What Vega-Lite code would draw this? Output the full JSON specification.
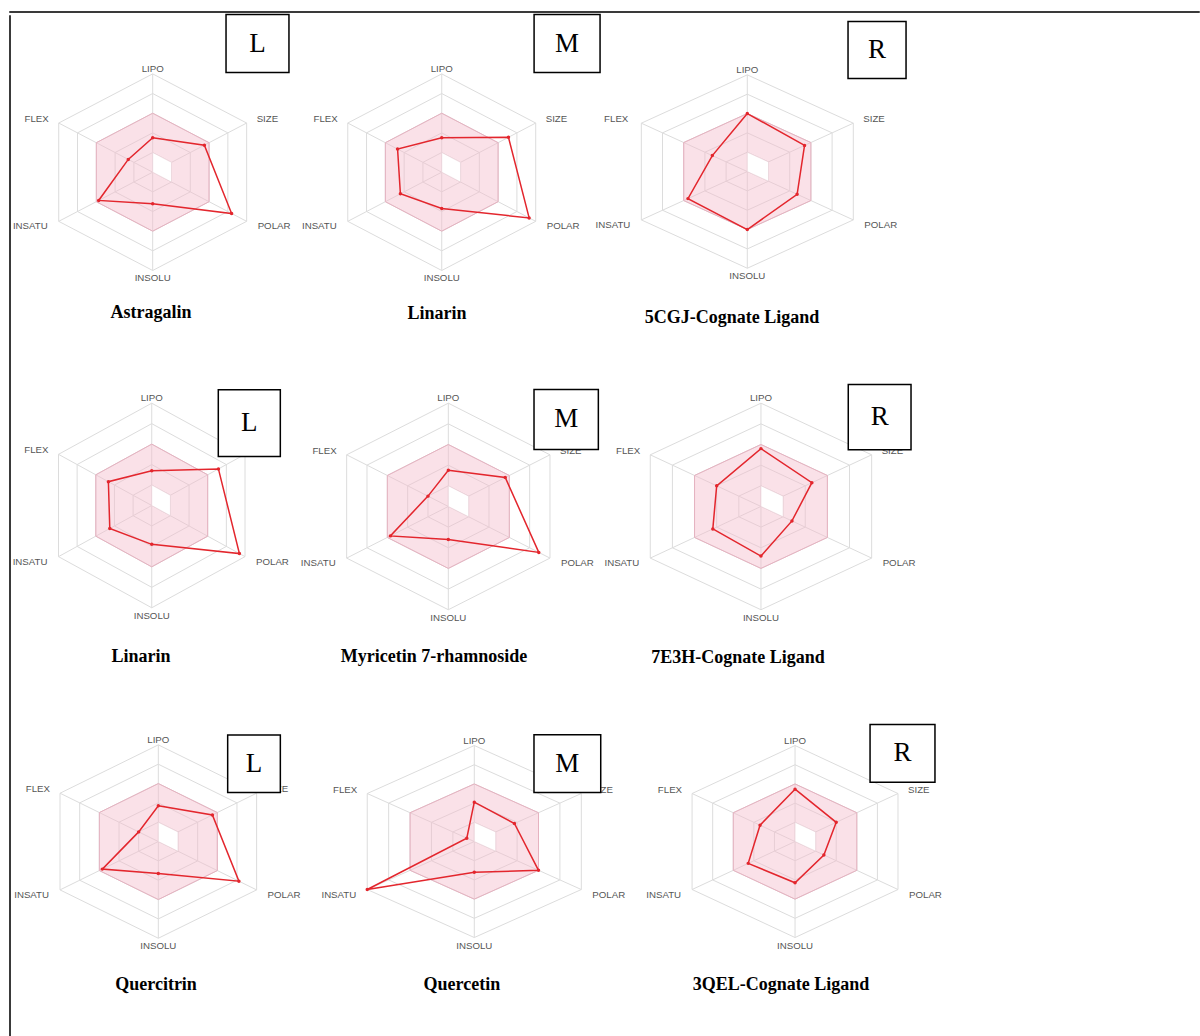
{
"$schema": "https://vega.github.io/schema/vega-lite/v6.json",
"background": "white",
"padding": {"left": 8, "top": 10, "right": 0, "bottom": 0},
"config": {"view": {"stroke": null}, "axis": {"disable": true}, "text": {"font": "Liberation Sans", "fontSize": 9.7, "color": "#555555", "baseline": "middle"}},
"datasets": {"d": [
{"kind":"g","axis":"LIPO","r":0.2},{"kind":"g","axis":"LIPO","r":0.4},{"kind":"g","axis":"LIPO","r":0.6},{"kind":"g","axis":"LIPO","r":0.8},{"kind":"g","axis":"LIPO","r":1},
{"kind":"g","axis":"SIZE","r":0.2},{"kind":"g","axis":"SIZE","r":0.4},{"kind":"g","axis":"SIZE","r":0.6},{"kind":"g","axis":"SIZE","r":0.8},{"kind":"g","axis":"SIZE","r":1},
{"kind":"g","axis":"POLAR","r":0.2},{"kind":"g","axis":"POLAR","r":0.4},{"kind":"g","axis":"POLAR","r":0.6},{"kind":"g","axis":"POLAR","r":0.8},{"kind":"g","axis":"POLAR","r":1},
{"kind":"g","axis":"INSOLU","r":0.2},{"kind":"g","axis":"INSOLU","r":0.4},{"kind":"g","axis":"INSOLU","r":0.6},{"kind":"g","axis":"INSOLU","r":0.8},{"kind":"g","axis":"INSOLU","r":1},
{"kind":"g","axis":"INSATU","r":0.2},{"kind":"g","axis":"INSATU","r":0.4},{"kind":"g","axis":"INSATU","r":0.6},{"kind":"g","axis":"INSATU","r":0.8},{"kind":"g","axis":"INSATU","r":1},
{"kind":"g","axis":"FLEX","r":0.2},{"kind":"g","axis":"FLEX","r":0.4},{"kind":"g","axis":"FLEX","r":0.6},{"kind":"g","axis":"FLEX","r":0.8},{"kind":"g","axis":"FLEX","r":1},
{"kind":"h","axis":"LIPO","r":0.2},{"kind":"h","axis":"SIZE","r":0.2},{"kind":"h","axis":"POLAR","r":0.2},{"kind":"h","axis":"INSOLU","r":0},{"kind":"h","axis":"INSATU","r":0},{"kind":"h","axis":"FLEX","r":0},
{"kind":"v","panel":"P1","axis":"LIPO","r":0.35},{"kind":"v","panel":"P1","axis":"SIZE","r":0.55},{"kind":"v","panel":"P1","axis":"POLAR","r":0.84},{"kind":"v","panel":"P1","axis":"INSOLU","r":0.32},{"kind":"v","panel":"P1","axis":"INSATU","r":0.575},{"kind":"v","panel":"P1","axis":"FLEX","r":0.26},
{"kind":"v","panel":"P2","axis":"LIPO","r":0.35},{"kind":"v","panel":"P2","axis":"SIZE","r":0.71},{"kind":"v","panel":"P2","axis":"POLAR","r":0.93},{"kind":"v","panel":"P2","axis":"INSOLU","r":0.37},{"kind":"v","panel":"P2","axis":"INSATU","r":0.44},{"kind":"v","panel":"P2","axis":"FLEX","r":0.47},
{"kind":"v","panel":"P3","axis":"LIPO","r":0.6},{"kind":"v","panel":"P3","axis":"SIZE","r":0.54},{"kind":"v","panel":"P3","axis":"POLAR","r":0.47},{"kind":"v","panel":"P3","axis":"INSOLU","r":0.6},{"kind":"v","panel":"P3","axis":"INSATU","r":0.56},{"kind":"v","panel":"P3","axis":"FLEX","r":0.33},
{"kind":"v","panel":"P4","axis":"LIPO","r":0.34},{"kind":"v","panel":"P4","axis":"SIZE","r":0.715},{"kind":"v","panel":"P4","axis":"POLAR","r":0.94},{"kind":"v","panel":"P4","axis":"INSOLU","r":0.38},{"kind":"v","panel":"P4","axis":"INSATU","r":0.45},{"kind":"v","panel":"P4","axis":"FLEX","r":0.465},
{"kind":"v","panel":"P5","axis":"LIPO","r":0.35},{"kind":"v","panel":"P5","axis":"SIZE","r":0.56},{"kind":"v","panel":"P5","axis":"POLAR","r":0.89},{"kind":"v","panel":"P5","axis":"INSOLU","r":0.32},{"kind":"v","panel":"P5","axis":"INSATU","r":0.57},{"kind":"v","panel":"P5","axis":"FLEX","r":0.2},
{"kind":"v","panel":"P6","axis":"LIPO","r":0.56},{"kind":"v","panel":"P6","axis":"SIZE","r":0.46},{"kind":"v","panel":"P6","axis":"POLAR","r":0.28},{"kind":"v","panel":"P6","axis":"INSOLU","r":0.48},{"kind":"v","panel":"P6","axis":"INSATU","r":0.435},{"kind":"v","panel":"P6","axis":"FLEX","r":0.4},
{"kind":"v","panel":"P7","axis":"LIPO","r":0.37},{"kind":"v","panel":"P7","axis":"SIZE","r":0.55},{"kind":"v","panel":"P7","axis":"POLAR","r":0.82},{"kind":"v","panel":"P7","axis":"INSOLU","r":0.33},{"kind":"v","panel":"P7","axis":"INSATU","r":0.57},{"kind":"v","panel":"P7","axis":"FLEX","r":0.2},
{"kind":"v","panel":"P8","axis":"LIPO","r":0.41},{"kind":"v","panel":"P8","axis":"SIZE","r":0.375},{"kind":"v","panel":"P8","axis":"POLAR","r":0.6},{"kind":"v","panel":"P8","axis":"INSOLU","r":0.32},{"kind":"v","panel":"P8","axis":"INSATU","r":1.0},{"kind":"v","panel":"P8","axis":"FLEX","r":0.07},
{"kind":"v","panel":"P9","axis":"LIPO","r":0.545},{"kind":"v","panel":"P9","axis":"SIZE","r":0.4},{"kind":"v","panel":"P9","axis":"POLAR","r":0.28},{"kind":"v","panel":"P9","axis":"INSOLU","r":0.43},{"kind":"v","panel":"P9","axis":"INSATU","r":0.455},{"kind":"v","panel":"P9","axis":"FLEX","r":0.34}
]},
"vconcat": [
{"width": 1190, "height": 1, "view": {"stroke": "#3a3a3a", "strokeWidth": 1}, "data": {"values": []}, "mark": {"type": "text"}, "encoding": {}},
{"hconcat": [
{"width": 1, "height": 1024, "view": {"stroke": "#3a3a3a", "strokeWidth": 1}, "data": {"values": []}, "mark": {"type": "text"}, "encoding": {}},
{"vconcat": [
{"hconcat": [
{"width":290,"height":348,"layer":[
{"data":{"name":"d"},"transform":[{"calculate":"indexof(['LIPO','SIZE','POLAR','INSOLU','INSATU','FLEX'],datum.axis)*PI/3","as":"ang"},{"calculate":"datum.r*sin(datum.ang)","as":"x"},{"calculate":"datum.r*cos(datum.ang)","as":"y"}],
"encoding":{"x":{"field":"x","type":"quantitative","scale":{"domain":[-1.306,1.367],"nice":false,"zero":false},"axis":null},"y":{"field":"y","type":"quantitative","scale":{"domain":[-1.941,1.599],"nice":false,"zero":false},"axis":null}},
"layer":[
{"transform":[{"filter":"datum.kind=='g'"}],"mark":{"type":"line","interpolate":"linear-closed","stroke":"#dcdcdc","strokeWidth":1},"encoding":{"detail":{"field":"r","type":"nominal"},"order":{"field":"ang","type":"quantitative"}}},
{"transform":[{"filter":"datum.kind=='g' && datum.r==1"}],"mark":{"type":"rule","stroke":"#dcdcdc","strokeWidth":1},"encoding":{"x2":{"datum":0},"y2":{"datum":0}}},
{"transform":[{"filter":"datum.kind=='g' && datum.r==0.6"}],"mark":{"type":"line","interpolate":"linear-closed","fill":"#f3bccb","fillOpacity":0.45,"stroke":"#e6b2c0","strokeWidth":1},"encoding":{"order":{"field":"ang","type":"quantitative"}}},
{"transform":[{"filter":"datum.kind=='h'"}],"mark":{"type":"line","interpolate":"linear-closed","fill":"#ffffff","stroke":"#ead0d6","strokeWidth":0.6},"encoding":{"order":{"field":"ang","type":"quantitative"}}},
{"transform":[{"filter":"datum.kind=='v' && datum.panel=='P1'"}],"layer":[{"mark":{"type":"line","interpolate":"linear-closed","stroke":"#e3262d","strokeWidth":1.5},"encoding":{"order":{"field":"ang","type":"quantitative"}}},{"mark":{"type":"circle","color":"#e3262d","size":12,"opacity":1}}]},
{"transform":[{"filter":"datum.kind=='g' && datum.r==1"}],"encoding":{"text":{"field":"axis","type":"nominal"}},"layer":[
{"transform":[{"filter":"datum.axis=='LIPO'"}],"mark":{"type":"text","dy":-5}},
{"transform":[{"filter":"datum.axis=='SIZE'"}],"mark":{"type":"text","align":"left","dx":10,"dy":-4}},
{"transform":[{"filter":"datum.axis=='POLAR'"}],"mark":{"type":"text","align":"left","dx":11,"dy":5}},
{"transform":[{"filter":"datum.axis=='INSOLU'"}],"mark":{"type":"text","dy":8}},
{"transform":[{"filter":"datum.axis=='INSATU'"}],"mark":{"type":"text","align":"right","dx":-11,"dy":5}},
{"transform":[{"filter":"datum.axis=='FLEX'"}],"mark":{"type":"text","align":"right","dx":-10,"dy":-4}}]}]},
{"data":{"values":[{"t":"L"}]},"layer":[{"mark":{"type":"rect","fill":"#ffffff","stroke":"#000000","strokeWidth":1.5},"encoding":{"x":{"datum":0.676},"x2":{"datum":1.256},"y":{"datum":1.604},"y2":{"datum":1.014}}},{"mark":{"type":"text","font":"Liberation Serif","fontSize":27,"color":"#000000"},"encoding":{"text":{"field":"t","type":"nominal"},"x":{"datum":0.966},"y":{"datum":1.309}}}]},
{"data":{"values":[{"t":"Astragalin"}]},"mark":{"type":"text","font":"Liberation Serif","fontSize":18,"fontWeight":"bold","color":"#000000"},"encoding":{"text":{"field":"t","type":"nominal"},"x":{"datum":-0.016},"y":{"datum":-1.437}}}
]},
{"width":320,"height":348,"layer":[
{"data":{"name":"d"},"transform":[{"calculate":"indexof(['LIPO','SIZE','POLAR','INSOLU','INSATU','FLEX'],datum.axis)*PI/3","as":"ang"},{"calculate":"datum.r*sin(datum.ang)","as":"x"},{"calculate":"datum.r*cos(datum.ang)","as":"y"}],
"encoding":{"x":{"field":"x","type":"quantitative","scale":{"domain":[-1.297,1.652],"nice":false,"zero":false},"axis":null},"y":{"field":"y","type":"quantitative","scale":{"domain":[-1.941,1.599],"nice":false,"zero":false},"axis":null}},
"layer":[
{"transform":[{"filter":"datum.kind=='g'"}],"mark":{"type":"line","interpolate":"linear-closed","stroke":"#dcdcdc","strokeWidth":1},"encoding":{"detail":{"field":"r","type":"nominal"},"order":{"field":"ang","type":"quantitative"}}},
{"transform":[{"filter":"datum.kind=='g' && datum.r==1"}],"mark":{"type":"rule","stroke":"#dcdcdc","strokeWidth":1},"encoding":{"x2":{"datum":0},"y2":{"datum":0}}},
{"transform":[{"filter":"datum.kind=='g' && datum.r==0.6"}],"mark":{"type":"line","interpolate":"linear-closed","fill":"#f3bccb","fillOpacity":0.45,"stroke":"#e6b2c0","strokeWidth":1},"encoding":{"order":{"field":"ang","type":"quantitative"}}},
{"transform":[{"filter":"datum.kind=='h'"}],"mark":{"type":"line","interpolate":"linear-closed","fill":"#ffffff","stroke":"#ead0d6","strokeWidth":0.6},"encoding":{"order":{"field":"ang","type":"quantitative"}}},
{"transform":[{"filter":"datum.kind=='v' && datum.panel=='P2'"}],"layer":[{"mark":{"type":"line","interpolate":"linear-closed","stroke":"#e3262d","strokeWidth":1.5},"encoding":{"order":{"field":"ang","type":"quantitative"}}},{"mark":{"type":"circle","color":"#e3262d","size":12,"opacity":1}}]},
{"transform":[{"filter":"datum.kind=='g' && datum.r==1"}],"encoding":{"text":{"field":"axis","type":"nominal"}},"layer":[
{"transform":[{"filter":"datum.axis=='LIPO'"}],"mark":{"type":"text","dy":-5}},
{"transform":[{"filter":"datum.axis=='SIZE'"}],"mark":{"type":"text","align":"left","dx":10,"dy":-4}},
{"transform":[{"filter":"datum.axis=='POLAR'"}],"mark":{"type":"text","align":"left","dx":11,"dy":5}},
{"transform":[{"filter":"datum.axis=='INSOLU'"}],"mark":{"type":"text","dy":8}},
{"transform":[{"filter":"datum.axis=='INSATU'"}],"mark":{"type":"text","align":"right","dx":-11,"dy":5}},
{"transform":[{"filter":"datum.axis=='FLEX'"}],"mark":{"type":"text","align":"right","dx":-10,"dy":-4}}]}]},
{"data":{"values":[{"t":"M"}]},"layer":[{"mark":{"type":"rect","fill":"#ffffff","stroke":"#000000","strokeWidth":1.5},"encoding":{"x":{"datum":0.851},"x2":{"datum":1.459},"y":{"datum":1.604},"y2":{"datum":1.014}}},{"mark":{"type":"text","font":"Liberation Serif","fontSize":27,"color":"#000000"},"encoding":{"text":{"field":"t","type":"nominal"},"x":{"datum":1.155},"y":{"datum":1.309}}}]},
{"data":{"values":[{"t":"Linarin"}]},"mark":{"type":"text","font":"Liberation Serif","fontSize":18,"fontWeight":"bold","color":"#000000"},"encoding":{"text":{"field":"t","type":"nominal"},"x":{"datum":-0.043},"y":{"datum":-1.447}}}
]},
{"width":340,"height":348,"layer":[
{"data":{"name":"d"},"transform":[{"calculate":"indexof(['LIPO','SIZE','POLAR','INSOLU','INSATU','FLEX'],datum.axis)*PI/3","as":"ang"},{"calculate":"datum.r*sin(datum.ang)","as":"x"},{"calculate":"datum.r*cos(datum.ang)","as":"y"}],
"encoding":{"x":{"field":"x","type":"quantitative","scale":{"domain":[-1.032,1.746],"nice":false,"zero":false},"axis":null},"y":{"field":"y","type":"quantitative","scale":{"domain":[-1.98,1.619],"nice":false,"zero":false},"axis":null}},
"layer":[
{"transform":[{"filter":"datum.kind=='g'"}],"mark":{"type":"line","interpolate":"linear-closed","stroke":"#dcdcdc","strokeWidth":1},"encoding":{"detail":{"field":"r","type":"nominal"},"order":{"field":"ang","type":"quantitative"}}},
{"transform":[{"filter":"datum.kind=='g' && datum.r==1"}],"mark":{"type":"rule","stroke":"#dcdcdc","strokeWidth":1},"encoding":{"x2":{"datum":0},"y2":{"datum":0}}},
{"transform":[{"filter":"datum.kind=='g' && datum.r==0.6"}],"mark":{"type":"line","interpolate":"linear-closed","fill":"#f3bccb","fillOpacity":0.45,"stroke":"#e6b2c0","strokeWidth":1},"encoding":{"order":{"field":"ang","type":"quantitative"}}},
{"transform":[{"filter":"datum.kind=='h'"}],"mark":{"type":"line","interpolate":"linear-closed","fill":"#ffffff","stroke":"#ead0d6","strokeWidth":0.6},"encoding":{"order":{"field":"ang","type":"quantitative"}}},
{"transform":[{"filter":"datum.kind=='v' && datum.panel=='P3'"}],"layer":[{"mark":{"type":"line","interpolate":"linear-closed","stroke":"#e3262d","strokeWidth":1.5},"encoding":{"order":{"field":"ang","type":"quantitative"}}},{"mark":{"type":"circle","color":"#e3262d","size":12,"opacity":1}}]},
{"transform":[{"filter":"datum.kind=='g' && datum.r==1"}],"encoding":{"text":{"field":"axis","type":"nominal"}},"layer":[
{"transform":[{"filter":"datum.axis=='LIPO'"}],"mark":{"type":"text","dy":-5}},
{"transform":[{"filter":"datum.axis=='SIZE'"}],"mark":{"type":"text","align":"left","dx":10,"dy":-4}},
{"transform":[{"filter":"datum.axis=='POLAR'"}],"mark":{"type":"text","align":"left","dx":11,"dy":5}},
{"transform":[{"filter":"datum.axis=='INSOLU'"}],"mark":{"type":"text","dy":8}},
{"transform":[{"filter":"datum.axis=='INSATU'"}],"mark":{"type":"text","align":"right","dx":-11,"dy":5}},
{"transform":[{"filter":"datum.axis=='FLEX'"}],"mark":{"type":"text","align":"right","dx":-13,"dy":-4}}]}]},
{"data":{"values":[{"t":"R"}]},"layer":[{"mark":{"type":"rect","fill":"#ffffff","stroke":"#000000","strokeWidth":1.5},"encoding":{"x":{"datum":0.823},"x2":{"datum":1.297},"y":{"datum":1.551},"y2":{"datum":0.962}}},{"mark":{"type":"text","font":"Liberation Serif","fontSize":27,"color":"#000000"},"encoding":{"text":{"field":"t","type":"nominal"},"x":{"datum":1.06},"y":{"datum":1.257}}}]},
{"data":{"values":[{"t":"5CGJ-Cognate Ligand"}]},"mark":{"type":"text","font":"Liberation Serif","fontSize":18,"fontWeight":"bold","color":"#000000"},"encoding":{"text":{"field":"t","type":"nominal"},"x":{"datum":-0.125},"y":{"datum":-1.51}}}
]}
],"spacing":0,"bounds":"flush"},
{"hconcat": [
{"width":290,"height":340,"layer":[
{"data":{"name":"d"},"transform":[{"calculate":"indexof(['LIPO','SIZE','POLAR','INSOLU','INSATU','FLEX'],datum.axis)*PI/3","as":"ang"},{"calculate":"datum.r*sin(datum.ang)","as":"x"},{"calculate":"datum.r*cos(datum.ang)","as":"y"}],
"encoding":{"x":{"field":"x","type":"quantitative","scale":{"domain":[-1.307,1.386],"nice":false,"zero":false},"axis":null},"y":{"field":"y","type":"quantitative","scale":{"domain":[-1.931,1.393],"nice":false,"zero":false},"axis":null}},
"layer":[
{"transform":[{"filter":"datum.kind=='g'"}],"mark":{"type":"line","interpolate":"linear-closed","stroke":"#dcdcdc","strokeWidth":1},"encoding":{"detail":{"field":"r","type":"nominal"},"order":{"field":"ang","type":"quantitative"}}},
{"transform":[{"filter":"datum.kind=='g' && datum.r==1"}],"mark":{"type":"rule","stroke":"#dcdcdc","strokeWidth":1},"encoding":{"x2":{"datum":0},"y2":{"datum":0}}},
{"transform":[{"filter":"datum.kind=='g' && datum.r==0.6"}],"mark":{"type":"line","interpolate":"linear-closed","fill":"#f3bccb","fillOpacity":0.45,"stroke":"#e6b2c0","strokeWidth":1},"encoding":{"order":{"field":"ang","type":"quantitative"}}},
{"transform":[{"filter":"datum.kind=='h'"}],"mark":{"type":"line","interpolate":"linear-closed","fill":"#ffffff","stroke":"#ead0d6","strokeWidth":0.6},"encoding":{"order":{"field":"ang","type":"quantitative"}}},
{"transform":[{"filter":"datum.kind=='v' && datum.panel=='P4'"}],"layer":[{"mark":{"type":"line","interpolate":"linear-closed","stroke":"#e3262d","strokeWidth":1.5},"encoding":{"order":{"field":"ang","type":"quantitative"}}},{"mark":{"type":"circle","color":"#e3262d","size":12,"opacity":1}}]},
{"transform":[{"filter":"datum.kind=='g' && datum.r==1"}],"encoding":{"text":{"field":"axis","type":"nominal"}},"layer":[
{"transform":[{"filter":"datum.axis=='LIPO'"}],"mark":{"type":"text","dy":-5}},
{"transform":[{"filter":"datum.axis=='SIZE'"}],"mark":{"type":"text","align":"left","dx":10,"dy":-4}},
{"transform":[{"filter":"datum.axis=='POLAR'"}],"mark":{"type":"text","align":"left","dx":11,"dy":5}},
{"transform":[{"filter":"datum.axis=='INSOLU'"}],"mark":{"type":"text","dy":8}},
{"transform":[{"filter":"datum.axis=='INSATU'"}],"mark":{"type":"text","align":"right","dx":-11,"dy":5}},
{"transform":[{"filter":"datum.axis=='FLEX'"}],"mark":{"type":"text","align":"right","dx":-10,"dy":-4}}]}]},
{"data":{"values":[{"t":"L"}]},"layer":[{"mark":{"type":"rect","fill":"#ffffff","stroke":"#000000","strokeWidth":1.5},"encoding":{"x":{"datum":0.618},"x2":{"datum":1.194},"y":{"datum":1.131},"y2":{"datum":0.479}}},{"mark":{"type":"text","font":"Liberation Serif","fontSize":27,"color":"#000000"},"encoding":{"text":{"field":"t","type":"nominal"},"x":{"datum":0.906},"y":{"datum":0.805}}}]},
{"data":{"values":[{"t":"Linarin"}]},"mark":{"type":"text","font":"Liberation Serif","fontSize":18,"fontWeight":"bold","color":"#000000"},"encoding":{"text":{"field":"t","type":"nominal"},"x":{"datum":-0.099},"y":{"datum":-1.486}}}
]},
{"width":320,"height":340,"layer":[
{"data":{"name":"d"},"transform":[{"calculate":"indexof(['LIPO','SIZE','POLAR','INSOLU','INSATU','FLEX'],datum.axis)*PI/3","as":"ang"},{"calculate":"datum.r*sin(datum.ang)","as":"x"},{"calculate":"datum.r*cos(datum.ang)","as":"y"}],
"encoding":{"x":{"field":"x","type":"quantitative","scale":{"domain":[-1.255,1.471],"nice":false,"zero":false},"axis":null},"y":{"field":"y","type":"quantitative","scale":{"domain":[-1.903,1.389],"nice":false,"zero":false},"axis":null}},
"layer":[
{"transform":[{"filter":"datum.kind=='g'"}],"mark":{"type":"line","interpolate":"linear-closed","stroke":"#dcdcdc","strokeWidth":1},"encoding":{"detail":{"field":"r","type":"nominal"},"order":{"field":"ang","type":"quantitative"}}},
{"transform":[{"filter":"datum.kind=='g' && datum.r==1"}],"mark":{"type":"rule","stroke":"#dcdcdc","strokeWidth":1},"encoding":{"x2":{"datum":0},"y2":{"datum":0}}},
{"transform":[{"filter":"datum.kind=='g' && datum.r==0.6"}],"mark":{"type":"line","interpolate":"linear-closed","fill":"#f3bccb","fillOpacity":0.45,"stroke":"#e6b2c0","strokeWidth":1},"encoding":{"order":{"field":"ang","type":"quantitative"}}},
{"transform":[{"filter":"datum.kind=='h'"}],"mark":{"type":"line","interpolate":"linear-closed","fill":"#ffffff","stroke":"#ead0d6","strokeWidth":0.6},"encoding":{"order":{"field":"ang","type":"quantitative"}}},
{"transform":[{"filter":"datum.kind=='v' && datum.panel=='P5'"}],"layer":[{"mark":{"type":"line","interpolate":"linear-closed","stroke":"#e3262d","strokeWidth":1.5},"encoding":{"order":{"field":"ang","type":"quantitative"}}},{"mark":{"type":"circle","color":"#e3262d","size":12,"opacity":1}}]},
{"transform":[{"filter":"datum.kind=='g' && datum.r==1"}],"encoding":{"text":{"field":"axis","type":"nominal"}},"layer":[
{"transform":[{"filter":"datum.axis=='LIPO'"}],"mark":{"type":"text","dy":-5}},
{"transform":[{"filter":"datum.axis=='SIZE'"}],"mark":{"type":"text","align":"left","dx":10,"dy":-4}},
{"transform":[{"filter":"datum.axis=='POLAR'"}],"mark":{"type":"text","align":"left","dx":11,"dy":5}},
{"transform":[{"filter":"datum.axis=='INSOLU'"}],"mark":{"type":"text","dy":8}},
{"transform":[{"filter":"datum.axis=='INSATU'"}],"mark":{"type":"text","align":"right","dx":-11,"dy":5}},
{"transform":[{"filter":"datum.axis=='FLEX'"}],"mark":{"type":"text","align":"right","dx":-10,"dy":-4}}]}]},
{"data":{"values":[{"t":"M"}]},"layer":[{"mark":{"type":"rect","fill":"#ffffff","stroke":"#000000","strokeWidth":1.5},"encoding":{"x":{"datum":0.73},"x2":{"datum":1.278},"y":{"datum":1.133},"y2":{"datum":0.552}}},{"mark":{"type":"text","font":"Liberation Serif","fontSize":27,"color":"#000000"},"encoding":{"text":{"field":"t","type":"nominal"},"x":{"datum":1.004},"y":{"datum":0.843}}}]},
{"data":{"values":[{"t":"Myricetin 7-rhamnoside"}]},"mark":{"type":"text","font":"Liberation Serif","fontSize":18,"fontWeight":"bold","color":"#000000"},"encoding":{"text":{"field":"t","type":"nominal"},"x":{"datum":-0.122},"y":{"datum":-1.462}}}
]},
{"width":340,"height":340,"layer":[
{"data":{"name":"d"},"transform":[{"calculate":"indexof(['LIPO','SIZE','POLAR','INSOLU','INSATU','FLEX'],datum.axis)*PI/3","as":"ang"},{"calculate":"datum.r*sin(datum.ang)","as":"x"},{"calculate":"datum.r*cos(datum.ang)","as":"y"}],
"encoding":{"x":{"field":"x","type":"quantitative","scale":{"domain":[-1.095,1.565],"nice":false,"zero":false},"axis":null},"y":{"field":"y","type":"quantitative","scale":{"domain":[-1.903,1.389],"nice":false,"zero":false},"axis":null}},
"layer":[
{"transform":[{"filter":"datum.kind=='g'"}],"mark":{"type":"line","interpolate":"linear-closed","stroke":"#dcdcdc","strokeWidth":1},"encoding":{"detail":{"field":"r","type":"nominal"},"order":{"field":"ang","type":"quantitative"}}},
{"transform":[{"filter":"datum.kind=='g' && datum.r==1"}],"mark":{"type":"rule","stroke":"#dcdcdc","strokeWidth":1},"encoding":{"x2":{"datum":0},"y2":{"datum":0}}},
{"transform":[{"filter":"datum.kind=='g' && datum.r==0.6"}],"mark":{"type":"line","interpolate":"linear-closed","fill":"#f3bccb","fillOpacity":0.45,"stroke":"#e6b2c0","strokeWidth":1},"encoding":{"order":{"field":"ang","type":"quantitative"}}},
{"transform":[{"filter":"datum.kind=='h'"}],"mark":{"type":"line","interpolate":"linear-closed","fill":"#ffffff","stroke":"#ead0d6","strokeWidth":0.6},"encoding":{"order":{"field":"ang","type":"quantitative"}}},
{"transform":[{"filter":"datum.kind=='v' && datum.panel=='P6'"}],"layer":[{"mark":{"type":"line","interpolate":"linear-closed","stroke":"#e3262d","strokeWidth":1.5},"encoding":{"order":{"field":"ang","type":"quantitative"}}},{"mark":{"type":"circle","color":"#e3262d","size":12,"opacity":1}}]},
{"transform":[{"filter":"datum.kind=='g' && datum.r==1"}],"encoding":{"text":{"field":"axis","type":"nominal"}},"layer":[
{"transform":[{"filter":"datum.axis=='LIPO'"}],"mark":{"type":"text","dy":-5}},
{"transform":[{"filter":"datum.axis=='SIZE'"}],"mark":{"type":"text","align":"left","dx":10,"dy":-4}},
{"transform":[{"filter":"datum.axis=='POLAR'"}],"mark":{"type":"text","align":"left","dx":11,"dy":5}},
{"transform":[{"filter":"datum.axis=='INSOLU'"}],"mark":{"type":"text","dy":8}},
{"transform":[{"filter":"datum.axis=='INSATU'"}],"mark":{"type":"text","align":"right","dx":-11,"dy":5}},
{"transform":[{"filter":"datum.axis=='FLEX'"}],"mark":{"type":"text","align":"right","dx":-10,"dy":-4}}]}]},
{"data":{"values":[{"t":"R"}]},"layer":[{"mark":{"type":"rect","fill":"#ffffff","stroke":"#000000","strokeWidth":1.5},"encoding":{"x":{"datum":0.683},"x2":{"datum":1.174},"y":{"datum":1.181},"y2":{"datum":0.549}}},{"mark":{"type":"text","font":"Liberation Serif","fontSize":27,"color":"#000000"},"encoding":{"text":{"field":"t","type":"nominal"},"x":{"datum":0.929},"y":{"datum":0.865}}}]},
{"data":{"values":[{"t":"7E3H-Cognate Ligand"}]},"mark":{"type":"text","font":"Liberation Serif","fontSize":18,"fontWeight":"bold","color":"#000000"},"encoding":{"text":{"field":"t","type":"nominal"},"x":{"datum":-0.18},"y":{"datum":-1.471}}}
]}
],"spacing":0,"bounds":"flush"},
{"hconcat": [
{"width":290,"height":336,"layer":[
{"data":{"name":"d"},"transform":[{"calculate":"indexof(['LIPO','SIZE','POLAR','INSOLU','INSATU','FLEX'],datum.axis)*PI/3","as":"ang"},{"calculate":"datum.r*sin(datum.ang)","as":"x"},{"calculate":"datum.r*cos(datum.ang)","as":"y"}],
"encoding":{"x":{"field":"x","type":"quantitative","scale":{"domain":[-1.298,1.257],"nice":false,"zero":false},"axis":null},"y":{"field":"y","type":"quantitative","scale":{"domain":[-2.042,1.433],"nice":false,"zero":false},"axis":null}},
"layer":[
{"transform":[{"filter":"datum.kind=='g'"}],"mark":{"type":"line","interpolate":"linear-closed","stroke":"#dcdcdc","strokeWidth":1},"encoding":{"detail":{"field":"r","type":"nominal"},"order":{"field":"ang","type":"quantitative"}}},
{"transform":[{"filter":"datum.kind=='g' && datum.r==1"}],"mark":{"type":"rule","stroke":"#dcdcdc","strokeWidth":1},"encoding":{"x2":{"datum":0},"y2":{"datum":0}}},
{"transform":[{"filter":"datum.kind=='g' && datum.r==0.6"}],"mark":{"type":"line","interpolate":"linear-closed","fill":"#f3bccb","fillOpacity":0.45,"stroke":"#e6b2c0","strokeWidth":1},"encoding":{"order":{"field":"ang","type":"quantitative"}}},
{"transform":[{"filter":"datum.kind=='h'"}],"mark":{"type":"line","interpolate":"linear-closed","fill":"#ffffff","stroke":"#ead0d6","strokeWidth":0.6},"encoding":{"order":{"field":"ang","type":"quantitative"}}},
{"transform":[{"filter":"datum.kind=='v' && datum.panel=='P7'"}],"layer":[{"mark":{"type":"line","interpolate":"linear-closed","stroke":"#e3262d","strokeWidth":1.5},"encoding":{"order":{"field":"ang","type":"quantitative"}}},{"mark":{"type":"circle","color":"#e3262d","size":12,"opacity":1}}]},
{"transform":[{"filter":"datum.kind=='g' && datum.r==1"}],"encoding":{"text":{"field":"axis","type":"nominal"}},"layer":[
{"transform":[{"filter":"datum.axis=='LIPO'"}],"mark":{"type":"text","dy":-5}},
{"transform":[{"filter":"datum.axis=='SIZE'"}],"mark":{"type":"text","align":"left","dx":10,"dy":-4}},
{"transform":[{"filter":"datum.axis=='POLAR'"}],"mark":{"type":"text","align":"left","dx":11,"dy":5}},
{"transform":[{"filter":"datum.axis=='INSOLU'"}],"mark":{"type":"text","dy":8}},
{"transform":[{"filter":"datum.axis=='INSATU'"}],"mark":{"type":"text","align":"right","dx":-11,"dy":5}},
{"transform":[{"filter":"datum.axis=='FLEX'"}],"mark":{"type":"text","align":"right","dx":-10,"dy":-4}}]}]},
{"data":{"values":[{"t":"L"}]},"layer":[{"mark":{"type":"rect","fill":"#ffffff","stroke":"#000000","strokeWidth":1.5},"encoding":{"x":{"datum":0.611},"x2":{"datum":1.075},"y":{"datum":1.103},"y2":{"datum":0.507}}},{"mark":{"type":"text","font":"Liberation Serif","fontSize":27,"color":"#000000"},"encoding":{"text":{"field":"t","type":"nominal"},"x":{"datum":0.843},"y":{"datum":0.805}}}]},
{"data":{"values":[{"t":"Quercitrin"}]},"mark":{"type":"text","font":"Liberation Serif","fontSize":18,"fontWeight":"bold","color":"#000000"},"encoding":{"text":{"field":"t","type":"nominal"},"x":{"datum":-0.02},"y":{"datum":-1.479}}}
]},
{"width":320,"height":336,"layer":[
{"data":{"name":"d"},"transform":[{"calculate":"indexof(['LIPO','SIZE','POLAR','INSOLU','INSATU','FLEX'],datum.axis)*PI/3","as":"ang"},{"calculate":"datum.r*sin(datum.ang)","as":"x"},{"calculate":"datum.r*cos(datum.ang)","as":"y"}],
"encoding":{"x":{"field":"x","type":"quantitative","scale":{"domain":[-1.402,1.187],"nice":false,"zero":false},"axis":null},"y":{"field":"y","type":"quantitative","scale":{"domain":[-2.057,1.443],"nice":false,"zero":false},"axis":null}},
"layer":[
{"transform":[{"filter":"datum.kind=='g'"}],"mark":{"type":"line","interpolate":"linear-closed","stroke":"#dcdcdc","strokeWidth":1},"encoding":{"detail":{"field":"r","type":"nominal"},"order":{"field":"ang","type":"quantitative"}}},
{"transform":[{"filter":"datum.kind=='g' && datum.r==1"}],"mark":{"type":"rule","stroke":"#dcdcdc","strokeWidth":1},"encoding":{"x2":{"datum":0},"y2":{"datum":0}}},
{"transform":[{"filter":"datum.kind=='g' && datum.r==0.6"}],"mark":{"type":"line","interpolate":"linear-closed","fill":"#f3bccb","fillOpacity":0.45,"stroke":"#e6b2c0","strokeWidth":1},"encoding":{"order":{"field":"ang","type":"quantitative"}}},
{"transform":[{"filter":"datum.kind=='h'"}],"mark":{"type":"line","interpolate":"linear-closed","fill":"#ffffff","stroke":"#ead0d6","strokeWidth":0.6},"encoding":{"order":{"field":"ang","type":"quantitative"}}},
{"transform":[{"filter":"datum.kind=='v' && datum.panel=='P8'"}],"layer":[{"mark":{"type":"line","interpolate":"linear-closed","stroke":"#e3262d","strokeWidth":1.5},"encoding":{"order":{"field":"ang","type":"quantitative"}}},{"mark":{"type":"circle","color":"#e3262d","size":12,"opacity":1}}]},
{"transform":[{"filter":"datum.kind=='g' && datum.r==1"}],"encoding":{"text":{"field":"axis","type":"nominal"}},"layer":[
{"transform":[{"filter":"datum.axis=='LIPO'"}],"mark":{"type":"text","dy":-5}},
{"transform":[{"filter":"datum.axis=='SIZE'"}],"mark":{"type":"text","align":"left","dx":10,"dy":-4}},
{"transform":[{"filter":"datum.axis=='POLAR'"}],"mark":{"type":"text","align":"left","dx":11,"dy":5}},
{"transform":[{"filter":"datum.axis=='INSOLU'"}],"mark":{"type":"text","dy":8}},
{"transform":[{"filter":"datum.axis=='INSATU'"}],"mark":{"type":"text","align":"right","dx":-11,"dy":5}},
{"transform":[{"filter":"datum.axis=='FLEX'"}],"mark":{"type":"text","align":"right","dx":-10,"dy":-4}}]}]},
{"data":{"values":[{"t":"M"}]},"layer":[{"mark":{"type":"rect","fill":"#ffffff","stroke":"#000000","strokeWidth":1.5},"encoding":{"x":{"datum":0.483},"x2":{"datum":1.023},"y":{"datum":1.111},"y2":{"datum":0.51}}},{"mark":{"type":"text","font":"Liberation Serif","fontSize":27,"color":"#000000"},"encoding":{"text":{"field":"t","type":"nominal"},"x":{"datum":0.753},"y":{"datum":0.81}}}]},
{"data":{"values":[{"t":"Quercetin"}]},"mark":{"type":"text","font":"Liberation Serif","fontSize":18,"fontWeight":"bold","color":"#000000"},"encoding":{"text":{"field":"t","type":"nominal"},"x":{"datum":-0.1},"y":{"datum":-1.49}}}
]},
{"width":340,"height":336,"layer":[
{"data":{"name":"d"},"transform":[{"calculate":"indexof(['LIPO','SIZE','POLAR','INSOLU','INSATU','FLEX'],datum.axis)*PI/3","as":"ang"},{"calculate":"datum.r*sin(datum.ang)","as":"x"},{"calculate":"datum.r*cos(datum.ang)","as":"y"}],
"encoding":{"x":{"field":"x","type":"quantitative","scale":{"domain":[-1.464,1.396],"nice":false,"zero":false},"axis":null},"y":{"field":"y","type":"quantitative","scale":{"domain":[-2.057,1.443],"nice":false,"zero":false},"axis":null}},
"layer":[
{"transform":[{"filter":"datum.kind=='g'"}],"mark":{"type":"line","interpolate":"linear-closed","stroke":"#dcdcdc","strokeWidth":1},"encoding":{"detail":{"field":"r","type":"nominal"},"order":{"field":"ang","type":"quantitative"}}},
{"transform":[{"filter":"datum.kind=='g' && datum.r==1"}],"mark":{"type":"rule","stroke":"#dcdcdc","strokeWidth":1},"encoding":{"x2":{"datum":0},"y2":{"datum":0}}},
{"transform":[{"filter":"datum.kind=='g' && datum.r==0.6"}],"mark":{"type":"line","interpolate":"linear-closed","fill":"#f3bccb","fillOpacity":0.45,"stroke":"#e6b2c0","strokeWidth":1},"encoding":{"order":{"field":"ang","type":"quantitative"}}},
{"transform":[{"filter":"datum.kind=='h'"}],"mark":{"type":"line","interpolate":"linear-closed","fill":"#ffffff","stroke":"#ead0d6","strokeWidth":0.6},"encoding":{"order":{"field":"ang","type":"quantitative"}}},
{"transform":[{"filter":"datum.kind=='v' && datum.panel=='P9'"}],"layer":[{"mark":{"type":"line","interpolate":"linear-closed","stroke":"#e3262d","strokeWidth":1.5},"encoding":{"order":{"field":"ang","type":"quantitative"}}},{"mark":{"type":"circle","color":"#e3262d","size":12,"opacity":1}}]},
{"transform":[{"filter":"datum.kind=='g' && datum.r==1"}],"encoding":{"text":{"field":"axis","type":"nominal"}},"layer":[
{"transform":[{"filter":"datum.axis=='LIPO'"}],"mark":{"type":"text","dy":-5}},
{"transform":[{"filter":"datum.axis=='SIZE'"}],"mark":{"type":"text","align":"left","dx":10,"dy":-4}},
{"transform":[{"filter":"datum.axis=='POLAR'"}],"mark":{"type":"text","align":"left","dx":11,"dy":5}},
{"transform":[{"filter":"datum.axis=='INSOLU'"}],"mark":{"type":"text","dy":8}},
{"transform":[{"filter":"datum.axis=='INSATU'"}],"mark":{"type":"text","align":"right","dx":-11,"dy":5}},
{"transform":[{"filter":"datum.axis=='FLEX'"}],"mark":{"type":"text","align":"right","dx":-10,"dy":-4}}]}]},
{"data":{"values":[{"t":"R"}]},"layer":[{"mark":{"type":"rect","fill":"#ffffff","stroke":"#000000","strokeWidth":1.5},"encoding":{"x":{"datum":0.631},"x2":{"datum":1.177},"y":{"datum":1.219},"y2":{"datum":0.618}}},{"mark":{"type":"text","font":"Liberation Serif","fontSize":27,"color":"#000000"},"encoding":{"text":{"field":"t","type":"nominal"},"x":{"datum":0.904},"y":{"datum":0.918}}}]},
{"data":{"values":[{"t":"3QEL-Cognate Ligand"}]},"mark":{"type":"text","font":"Liberation Serif","fontSize":18,"fontWeight":"bold","color":"#000000"},"encoding":{"text":{"field":"t","type":"nominal"},"x":{"datum":-0.118},"y":{"datum":-1.49}}}
]}
],"spacing":0,"bounds":"flush"}
],"spacing":0}
],"spacing":0}
],"spacing":0
}
